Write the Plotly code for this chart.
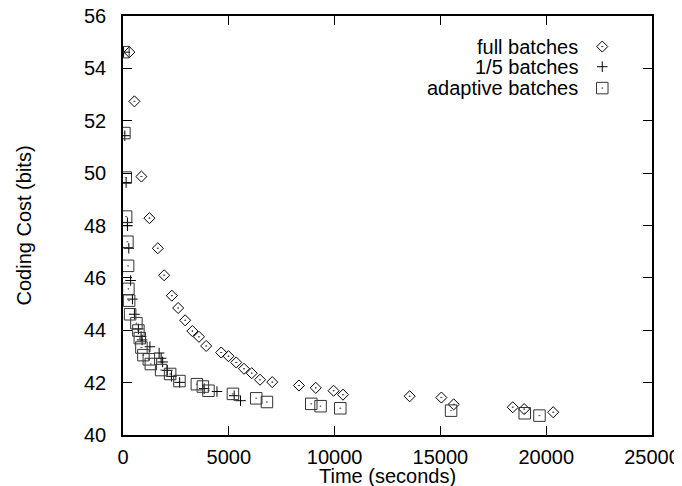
import plotly.graph_objects as go

# ---- data ----
full_t = [300, 539, 870, 1249, 1646, 1944, 2308, 2606, 2937, 3278, 3590, 3931,
          4640, 4985, 5350, 5719, 6083, 6476, 7052, 8315, 9110, 9952, 10397,
          13547, 15046, 15628, 18419, 18958, 20330]
full_c = [54.62, 52.74, 49.87, 48.28, 47.13, 46.10, 45.32, 44.85, 44.38, 43.97,
          43.75, 43.40, 43.15, 43.01, 42.77, 42.53, 42.36, 42.11, 42.02, 41.89,
          41.80, 41.69, 41.54, 41.48, 41.43, 41.17, 41.06, 40.99, 40.87]

fifth_t = [28, 85, 147, 208, 215, 274, 360, 445, 539, 728, 856, 903, 1272, 1708,
           1802, 1873, 2095, 2289, 2677, 3836, 4441, 5255, 5553]
fifth_c = [54.62, 51.43, 49.64, 48.11, 47.99, 47.13, 45.90, 45.19, 44.61, 44.05,
           43.76, 43.63, 43.37, 43.13, 42.93, 42.79, 42.47, 42.24, 42.01, 41.77,
           41.66, 41.50, 41.31]

adapt_t = [19, 66, 132, 147, 208, 241, 255, 289, 336, 634, 728, 795, 870, 965,
           1220, 1315, 1802, 2228, 2668, 3491, 3775, 4039, 5194, 6296, 6802,
           8897, 9337, 10269, 15505, 18986, 19682]
adapt_c = [54.62, 51.53, 49.83, 48.34, 47.38, 46.46, 45.58, 45.13, 44.61, 44.27,
           43.99, 43.70, 43.34, 43.05, 42.89, 42.71, 42.48, 42.33, 42.06, 41.94,
           41.85, 41.69, 41.57, 41.40, 41.26, 41.19, 41.10, 41.02, 40.93, 40.83,
           40.74]

series_names = ["full batches", "1/5 batches", "adaptive batches"]
x_ticks = [0, 5000, 10000, 15000, 20000, 25000]
y_ticks = [40, 42, 44, 46, 48, 50, 52, 54, 56]

FONT = "Liberation Sans, Arial, Helvetica, sans-serif"
FS = 20

sym_full = dict(symbol="diamond-open-dot", size=8.5, color="black", line=dict(width=1, color="black"))
sym_fifth = dict(symbol="cross-thin-open", size=7.5, color="black", line=dict(width=1, color="black"))
sym_adapt = dict(symbol="square-open-dot", size=11.5, color="#333333", line=dict(width=1, color="#333333"))

fig = go.Figure()
fig.add_trace(go.Scatter(x=full_t, y=full_c, mode="markers", name=series_names[0], marker=sym_full))
fig.add_trace(go.Scatter(x=fifth_t, y=fifth_c, mode="markers", name=series_names[1], marker=sym_fifth))
fig.add_trace(go.Scatter(x=adapt_t, y=adapt_c, mode="markers", name=series_names[2], marker=sym_adapt))

# custom gnuplot-style key (text right-aligned, symbol to the right)
key_y = [0.927, 0.879, 0.828]
key_x = 0.906
for nm, yy, mk in zip(series_names, key_y, [sym_full, sym_fifth, sym_adapt]):
    fig.add_trace(go.Scatter(x=[key_x], y=[yy], xaxis="x2", yaxis="y2", mode="markers",
                             marker=mk, showlegend=False, hoverinfo="skip"))
    fig.add_annotation(text=nm, xref="paper", yref="paper", x=0.864, y=yy,
                       xanchor="right", yanchor="middle", showarrow=False,
                       font=dict(family=FONT, size=FS, color="black"))

axis_common = dict(showline=True, linecolor="black", linewidth=1.5, mirror="allticks",
                   ticks="inside", ticklen=9, tickwidth=1.2, tickcolor="black",
                   showgrid=False, zeroline=False, ticklabeloverflow="allow",
                   tickfont=dict(family=FONT, size=FS, color="black"))

# page body has an 8px margin, so the figure is 674x478 and offset by 8px
fig.update_layout(
    width=674, height=478,
    margin=dict(l=115, r=30, t=8, b=51, autoexpand=False),
    paper_bgcolor="white", plot_bgcolor="white",
    showlegend=False,
    xaxis=dict(range=[0, 25000], tickvals=x_ticks, ticktext=[str(v) for v in x_ticks],
               ticklabelstandoff=3, **axis_common),
    yaxis=dict(range=[40, 56], tickvals=y_ticks, ticktext=[str(v) for v in y_ticks],
               ticklabelstandoff=11, **axis_common),
    xaxis2=dict(range=[0, 1], overlaying="x", visible=False, fixedrange=True),
    yaxis2=dict(range=[0, 1], overlaying="y", visible=False, fixedrange=True),
)

fig.add_annotation(text="Time (seconds)", xref="paper", yref="paper", x=0.5, y=0,
                   yshift=-41, xanchor="center", yanchor="middle", showarrow=False,
                   font=dict(family=FONT, size=FS, color="black"))
fig.add_annotation(text="Coding Cost (bits)", xref="paper", yref="paper", x=0, y=0.5,
                   xshift=-100, xanchor="center", yanchor="middle", textangle=-90,
                   showarrow=False, font=dict(family=FONT, size=FS, color="black"))

fig.write_html("out.html")
